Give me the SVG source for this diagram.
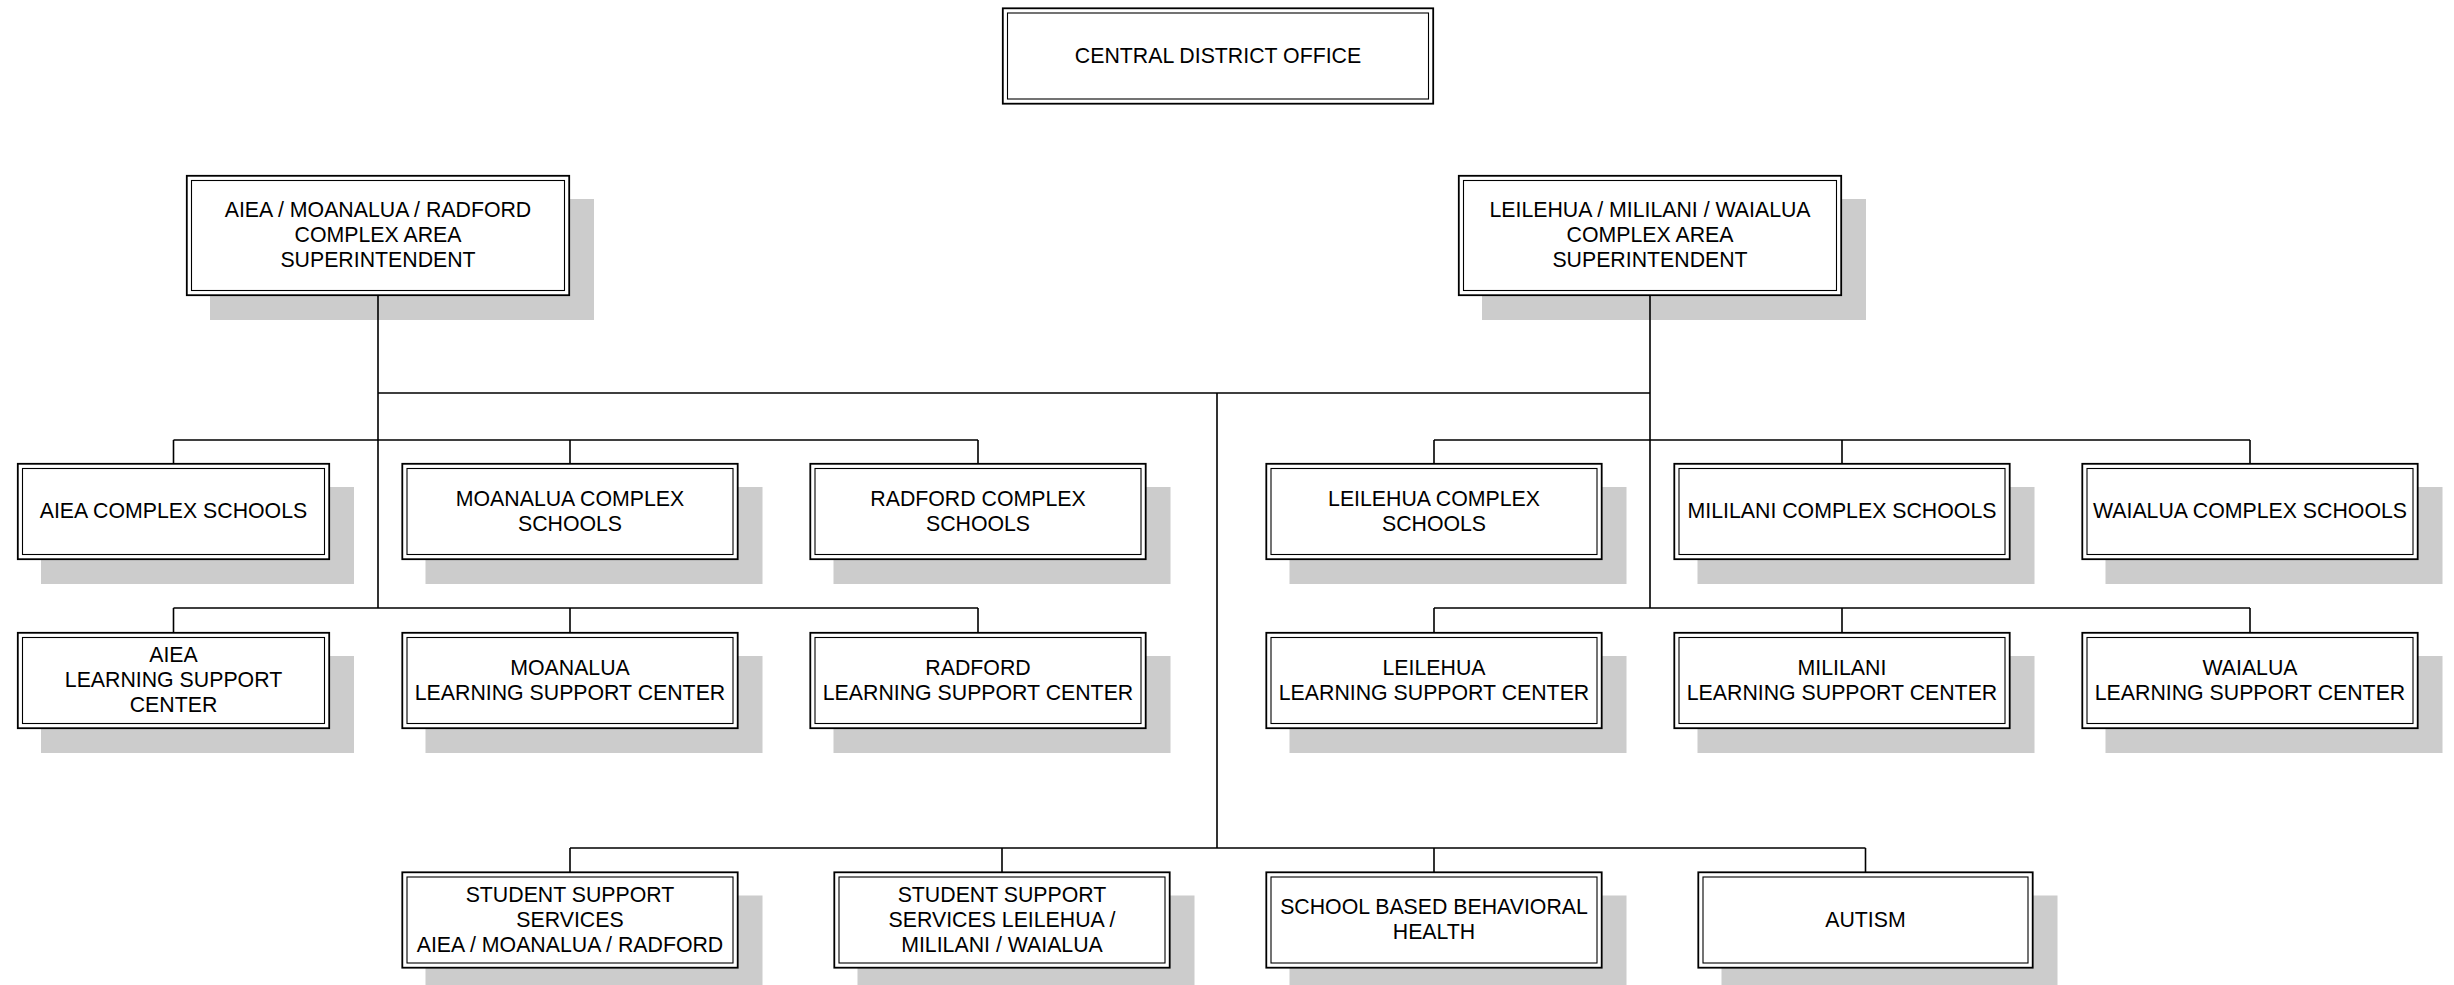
<svg xmlns="http://www.w3.org/2000/svg" width="2454" height="985" viewBox="0 0 2454 985">
<style>
.sh{fill:#cccccc;stroke:none}
.ob{fill:#ffffff;stroke:#000;stroke-width:1.8}
.ib{fill:none;stroke:#000;stroke-width:1.1}
.t{font-family:"Liberation Sans",Arial,sans-serif;font-size:21.3px;fill:#000;text-anchor:middle}
.c{stroke:#000;stroke-width:1.6;fill:none}
</style>
<rect width="2454" height="985" fill="#ffffff"/>

<g id="central">
<rect class="ob" x="1002.8" y="8.3" width="430.4" height="95.4"/>
<rect class="ib" x="1007.5" y="13" width="421" height="86"/>
<text class="t" x="1218" y="62.5">CENTRAL DISTRICT OFFICE</text>
</g>

<g id="sup-left">
<rect class="sh" x="210" y="199" width="384" height="121"/>
<rect class="ob" x="186.8" y="175.8" width="382.4" height="119.4"/>
<rect class="ib" x="191.5" y="180.5" width="373" height="110"/>
<text class="t" x="378" y="217">AIEA / MOANALUA / RADFORD</text>
<text class="t" x="378" y="242">COMPLEX AREA</text>
<text class="t" x="378" y="267">SUPERINTENDENT</text>
</g>

<g id="sup-right">
<rect class="sh" x="1482" y="199" width="384" height="121"/>
<rect class="ob" x="1458.8" y="175.8" width="382.4" height="119.4"/>
<rect class="ib" x="1463.5" y="180.5" width="373" height="110"/>
<text class="t" x="1650" y="217">LEILEHUA / MILILANI / WAIALUA</text>
<text class="t" x="1650" y="242">COMPLEX AREA</text>
<text class="t" x="1650" y="267">SUPERINTENDENT</text>
</g>

<g id="aiea-cs">
<rect class="sh" x="41" y="487" width="313" height="97"/>
<rect class="ob" x="17.8" y="463.8" width="311.4" height="95.4"/>
<rect class="ib" x="22.5" y="468.5" width="302" height="86"/>
<text class="t" x="173.5" y="518">AIEA COMPLEX SCHOOLS</text>
</g>

<g id="moanalua-cs">
<rect class="sh" x="425.5" y="487" width="337" height="97"/>
<rect class="ob" x="402.3" y="463.8" width="335.4" height="95.4"/>
<rect class="ib" x="407" y="468.5" width="326" height="86"/>
<text class="t" x="570" y="505.5">MOANALUA COMPLEX</text>
<text class="t" x="570" y="530.5">SCHOOLS</text>
</g>

<g id="radford-cs">
<rect class="sh" x="833.5" y="487" width="337" height="97"/>
<rect class="ob" x="810.3" y="463.8" width="335.4" height="95.4"/>
<rect class="ib" x="815" y="468.5" width="326" height="86"/>
<text class="t" x="978" y="505.5">RADFORD COMPLEX</text>
<text class="t" x="978" y="530.5">SCHOOLS</text>
</g>

<g id="leilehua-cs">
<rect class="sh" x="1289.5" y="487" width="337" height="97"/>
<rect class="ob" x="1266.3" y="463.8" width="335.4" height="95.4"/>
<rect class="ib" x="1271" y="468.5" width="326" height="86"/>
<text class="t" x="1434" y="505.5">LEILEHUA COMPLEX</text>
<text class="t" x="1434" y="530.5">SCHOOLS</text>
</g>

<g id="mililani-cs">
<rect class="sh" x="1697.5" y="487" width="337" height="97"/>
<rect class="ob" x="1674.3" y="463.8" width="335.4" height="95.4"/>
<rect class="ib" x="1679" y="468.5" width="326" height="86"/>
<text class="t" x="1842" y="518">MILILANI COMPLEX SCHOOLS</text>
</g>

<g id="waialua-cs">
<rect class="sh" x="2105.5" y="487" width="337" height="97"/>
<rect class="ob" x="2082.3" y="463.8" width="335.4" height="95.4"/>
<rect class="ib" x="2087" y="468.5" width="326" height="86"/>
<text class="t" x="2250" y="518">WAIALUA COMPLEX SCHOOLS</text>
</g>

<g id="aiea-lsc">
<rect class="sh" x="41" y="656" width="313" height="97"/>
<rect class="ob" x="17.8" y="632.8" width="311.4" height="95.4"/>
<rect class="ib" x="22.5" y="637.5" width="302" height="86"/>
<text class="t" x="173.5" y="662">AIEA</text>
<text class="t" x="173.5" y="687">LEARNING SUPPORT</text>
<text class="t" x="173.5" y="712">CENTER</text>
</g>

<g id="moanalua-lsc">
<rect class="sh" x="425.5" y="656" width="337" height="97"/>
<rect class="ob" x="402.3" y="632.8" width="335.4" height="95.4"/>
<rect class="ib" x="407" y="637.5" width="326" height="86"/>
<text class="t" x="570" y="674.5">MOANALUA</text>
<text class="t" x="570" y="699.5">LEARNING SUPPORT CENTER</text>
</g>

<g id="radford-lsc">
<rect class="sh" x="833.5" y="656" width="337" height="97"/>
<rect class="ob" x="810.3" y="632.8" width="335.4" height="95.4"/>
<rect class="ib" x="815" y="637.5" width="326" height="86"/>
<text class="t" x="978" y="674.5">RADFORD</text>
<text class="t" x="978" y="699.5">LEARNING SUPPORT CENTER</text>
</g>

<g id="leilehua-lsc">
<rect class="sh" x="1289.5" y="656" width="337" height="97"/>
<rect class="ob" x="1266.3" y="632.8" width="335.4" height="95.4"/>
<rect class="ib" x="1271" y="637.5" width="326" height="86"/>
<text class="t" x="1434" y="674.5">LEILEHUA</text>
<text class="t" x="1434" y="699.5">LEARNING SUPPORT CENTER</text>
</g>

<g id="mililani-lsc">
<rect class="sh" x="1697.5" y="656" width="337" height="97"/>
<rect class="ob" x="1674.3" y="632.8" width="335.4" height="95.4"/>
<rect class="ib" x="1679" y="637.5" width="326" height="86"/>
<text class="t" x="1842" y="674.5">MILILANI</text>
<text class="t" x="1842" y="699.5">LEARNING SUPPORT CENTER</text>
</g>

<g id="waialua-lsc">
<rect class="sh" x="2105.5" y="656" width="337" height="97"/>
<rect class="ob" x="2082.3" y="632.8" width="335.4" height="95.4"/>
<rect class="ib" x="2087" y="637.5" width="326" height="86"/>
<text class="t" x="2250" y="674.5">WAIALUA</text>
<text class="t" x="2250" y="699.5">LEARNING SUPPORT CENTER</text>
</g>

<g id="sss-amr">
<rect class="sh" x="425.5" y="895.5" width="337" height="97"/>
<rect class="ob" x="402.3" y="872.3" width="335.4" height="95.4"/>
<rect class="ib" x="407" y="877" width="326" height="86"/>
<text class="t" x="570" y="901.5">STUDENT SUPPORT</text>
<text class="t" x="570" y="926.5">SERVICES</text>
<text class="t" x="570" y="951.5">AIEA / MOANALUA / RADFORD</text>
</g>

<g id="sss-lmw">
<rect class="sh" x="857.5" y="895.5" width="337" height="97"/>
<rect class="ob" x="834.3" y="872.3" width="335.4" height="95.4"/>
<rect class="ib" x="839" y="877" width="326" height="86"/>
<text class="t" x="1002" y="901.5">STUDENT SUPPORT</text>
<text class="t" x="1002" y="926.5">SERVICES LEILEHUA /</text>
<text class="t" x="1002" y="951.5">MILILANI / WAIALUA</text>
</g>

<g id="sbbh">
<rect class="sh" x="1289.5" y="895.5" width="337" height="97"/>
<rect class="ob" x="1266.3" y="872.3" width="335.4" height="95.4"/>
<rect class="ib" x="1271" y="877" width="326" height="86"/>
<text class="t" x="1434" y="914">SCHOOL BASED BEHAVIORAL</text>
<text class="t" x="1434" y="939">HEALTH</text>
</g>

<g id="autism">
<rect class="sh" x="1721.5" y="895.5" width="336" height="97"/>
<rect class="ob" x="1698.3" y="872.3" width="334.4" height="95.4"/>
<rect class="ib" x="1703" y="877" width="325" height="86"/>
<text class="t" x="1865.5" y="926.5">AUTISM</text>
</g>

<g id="connectors">
<path class="c" d="M378 296 V608 M1650 296 V608 M378 393 H1650 M1217 393 V848"/>
<path class="c" d="M173.5 440 H978 M173.5 440 V463 M570 440 V463 M978 440 V463"/>
<path class="c" d="M173.5 608 H978 M173.5 608 V632 M570 608 V632 M978 608 V632"/>
<path class="c" d="M1434 440 H2250 M1434 440 V463 M1842 440 V463 M2250 440 V463"/>
<path class="c" d="M1434 608 H2250 M1434 608 V632 M1842 608 V632 M2250 608 V632"/>
<path class="c" d="M570 848 H1865.5 M570 848 V872 M1002 848 V872 M1434 848 V872 M1865.5 848 V872"/>
</g>
</svg>
